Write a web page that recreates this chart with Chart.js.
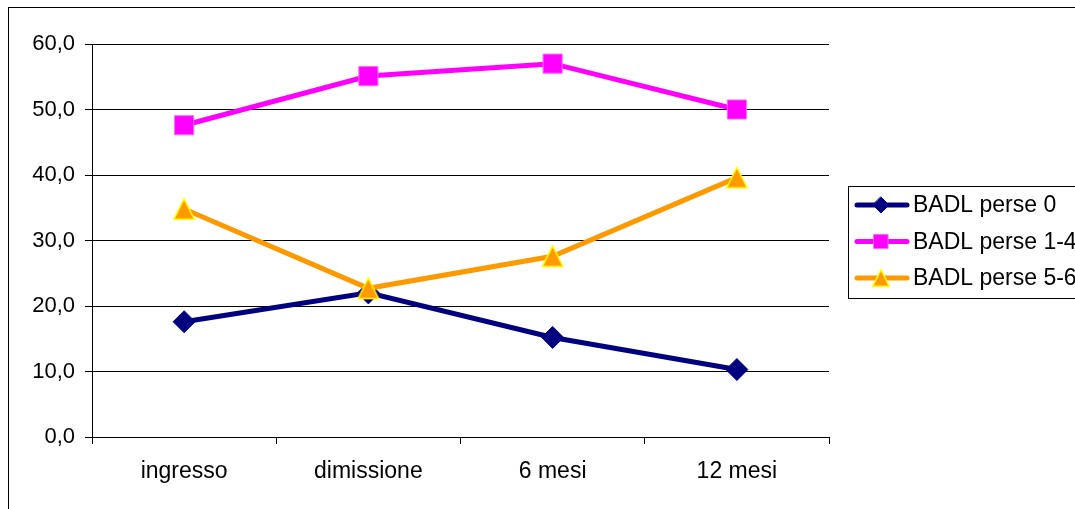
<!DOCTYPE html>
<html>
<head>
<meta charset="utf-8">
<script src="https://cdn.jsdelivr.net/npm/chart.js@4.4.1/dist/chart.umd.min.js"></script>
<style>
  html, body { margin: 0; padding: 0; background: #ffffff; }
  #wrap { width: 1075px; height: 509px; }
</style>
</head>
<body>
<div id="wrap"><canvas id="c" width="1075" height="509"></canvas></div>
<script>
// Time points of the follow-up
const categories = ['ingresso', 'dimissione', '6 mesi', '12 mesi'];

// Percentages per group of lost BADL
const badl0 = [17.6, 22.0, 15.2, 10.3];
const badl14 = [47.6, 55.1, 57.0, 50.0];
const badl56 = [34.8, 22.7, 27.6, 39.6];

// Y axis range
const yMin = 0;
const yMax = 60;
const yStep = 10;

const FONT = 'Liberation Sans, Arial, sans-serif';
const Y_FONT_SIZE = 22;
const X_FONT_SIZE = 23;
const LEGEND_FONT_SIZE = 23;

// Triangle marker centred on its bounding box
function makeTriangle(size, fill, stroke, lw) {
  const c = document.createElement('canvas');
  c.width = size + 2;
  c.height = size + 2;
  const g = c.getContext('2d');
  const p = 1 + lw / 2;
  g.beginPath();
  g.moveTo(c.width / 2, p);
  g.lineTo(c.width - p, c.height - p);
  g.lineTo(p, c.height - p);
  g.closePath();
  g.fillStyle = fill;
  g.fill();
  g.strokeStyle = stroke;
  g.lineWidth = lw;
  g.stroke();
  return c;
}
const triMarker = makeTriangle(22, '#FF9900', '#FFFF00', 1.5);
const triLegend = makeTriangle(18, '#FF9900', '#FFFF00', 1.5);

// Outer frame around the whole chart
const framePlugin = {
  id: 'frame',
  afterDraw(chart) {
    const ctx = chart.ctx;
    ctx.save();
    ctx.strokeStyle = '#000000';
    ctx.lineWidth = 1;
    ctx.strokeRect(8.5, 7.5, 1200, 700);
    ctx.restore();
  }
};

function drawMarker(ctx, ds, x, y) {
  const style = ds.pointStyle;
  const r = ds.legendRadius;
  ctx.fillStyle = ds.pointBackgroundColor;
  ctx.strokeStyle = ds.pointBorderColor;
  ctx.lineWidth = ds.pointBorderWidth;
  if (style === 'rectRot') {
    ctx.beginPath();
    ctx.moveTo(x, y - r); ctx.lineTo(x + r, y); ctx.lineTo(x, y + r); ctx.lineTo(x - r, y); ctx.closePath();
    ctx.fill(); ctx.stroke();
  } else if (style === 'rect') {
    const s = r * Math.SQRT1_2;
    ctx.beginPath();
    ctx.rect(x - s, y - s, 2 * s, 2 * s);
    ctx.fill(); ctx.stroke();
  } else {
    ctx.drawImage(triLegend, x - triLegend.width / 2, y - triLegend.height / 2);
  }
}

// Boxed legend on the right, drawn from the datasets
const boxLegendPlugin = {
  id: 'boxLegend',
  afterDraw(chart) {
    const ctx = chart.ctx;
    const x0 = 848.5, y0 = 186.5, w = 300, h = 112;
    ctx.save();
    ctx.fillStyle = '#ffffff';
    ctx.fillRect(x0, y0, w, h);
    ctx.strokeStyle = '#000000';
    ctx.lineWidth = 1;
    ctx.strokeRect(x0, y0, w, h);
    ctx.textBaseline = 'middle';
    ctx.textAlign = 'left';
    chart.data.datasets.forEach((ds, i) => {
      const yy = 205 + i * 36.5;
      ctx.strokeStyle = ds.borderColor;
      ctx.lineWidth = ds.borderWidth;
      ctx.lineCap = 'round';
      ctx.beginPath();
      ctx.moveTo(857, yy);
      ctx.lineTo(907, yy);
      ctx.stroke();
      drawMarker(ctx, ds, 881, yy);
      ctx.font = LEGEND_FONT_SIZE + 'px ' + FONT;
      ctx.fillStyle = '#000000';
      ctx.fillText(ds.label, 913, yy + 1);
    });
    ctx.restore();
  }
};

new Chart(document.getElementById('c'), {
  type: 'line',
  data: {
    labels: categories,
    datasets: [
      {
        label: 'BADL perse 0',
        data: badl0,
        order: 3,
        borderColor: '#000080',
        borderWidth: 5,
        pointStyle: 'rectRot',
        pointRadius: 11,
        pointBackgroundColor: '#000080',
        pointBorderColor: '#000080',
        pointBorderWidth: 1,
        legendRadius: 8
      },
      {
        label: 'BADL perse 1-4',
        data: badl14,
        order: 2,
        borderColor: '#FF00FF',
        borderWidth: 5,
        pointStyle: 'rect',
        pointRadius: 13.5,
        pointBackgroundColor: '#FF00FF',
        pointBorderColor: '#FF66FF',
        pointBorderWidth: 1,
        legendRadius: 10
      },
      {
        label: 'BADL perse 5-6',
        data: badl56,
        order: 1,
        borderColor: '#FF9900',
        borderWidth: 5,
        pointStyle: triMarker,
        pointRadius: 12,
        pointBackgroundColor: '#FF9900',
        pointBorderColor: '#FFFF00',
        pointBorderWidth: 1.5,
        legendRadius: 10
      }
    ]
  },
  options: {
    responsive: false,
    animation: false,
    layout: { padding: { left: 0, top: 44, right: 246, bottom: 0 } },
    plugins: {
      legend: { display: false },
      tooltip: { enabled: false }
    },
    elements: { line: { tension: 0 } },
    scales: {
      x: {
        offset: true,
        grid: { offset: true, drawOnChartArea: false, color: '#000000', tickLength: 7, lineWidth: 1 },
        border: { color: '#000000', width: 1 },
        ticks: { color: '#000000', font: { family: FONT, size: X_FONT_SIZE }, padding: 14, maxRotation: 0 },
        afterFit(s) { s.height = 72; }
      },
      y: {
        min: yMin,
        max: yMax,
        grid: { color: '#000000', tickLength: 7, lineWidth: 1 },
        border: { color: '#000000', width: 1 },
        ticks: {
          stepSize: yStep,
          color: '#000000',
          font: { family: FONT, size: Y_FONT_SIZE },
          padding: 10,
          callback: v => v.toFixed(1).replace('.', ',')
        },
        afterFit(s) { s.width = 92; }
      }
    }
  },
  plugins: [framePlugin, boxLegendPlugin]
});
</script>
</body>
</html>
